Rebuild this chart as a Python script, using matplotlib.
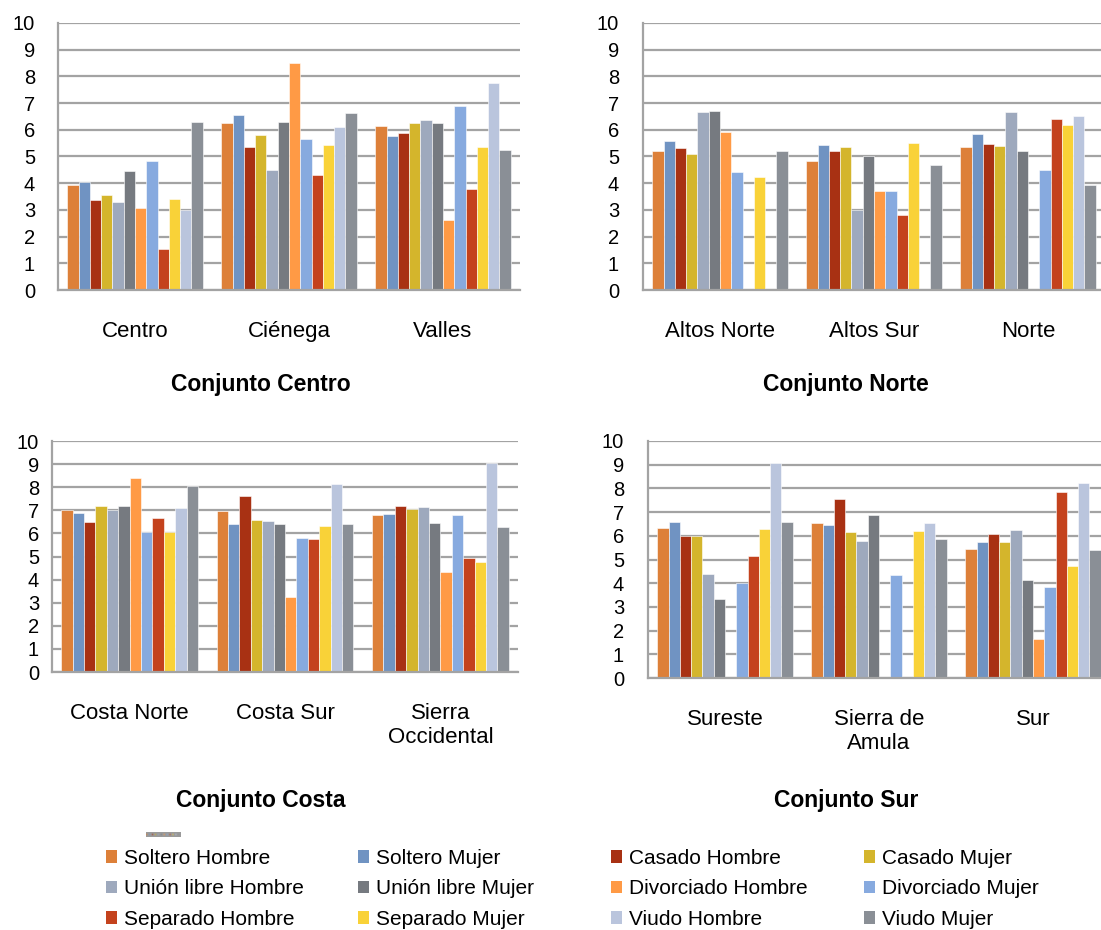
import numpy as np
import matplotlib
matplotlib.use("Agg")
import matplotlib.pyplot as plt
from matplotlib.patches import Patch
from matplotlib.colors import to_rgb

plt.rcParams['font.family'] = ['Liberation Sans', 'DejaVu Sans']

series = ["Soltero Hombre", "Soltero Mujer", "Casado Hombre", "Casado Mujer",
          "Unión libre Hombre", "Unión libre Mujer", "Divorciado Hombre", "Divorciado Mujer",
          "Separado Hombre", "Separado Mujer", "Viudo Hombre", "Viudo Mujer"]
colors = ["#DD8039", "#7093C2", "#A83113", "#D4B52C",
          "#9EA9BD", "#767A80", "#FF9A45", "#87AADF",
          "#C4421D", "#F9D238", "#BAC5DD", "#8A8F96"]

nan = np.nan

# Conjunto Centro
centro_cats = ["Centro", "Ciénega", "Valles"]
centro_vals = [
    [3.95, 4.04, 3.37, 3.55, 3.29, 4.45, 3.07, 4.85, 1.52, 3.40, 2.99, 6.31],
    [6.26, 6.56, 5.34, 5.80, 4.51, 6.31, 8.49, 5.64, 4.31, 5.42, 6.12, 6.62],
    [6.15, 5.77, 5.87, 6.26, 6.38, 6.25, 2.64, 6.91, 3.77, 5.35, 7.77, 5.26],
]

# Conjunto Norte
norte_cats = ["Altos Norte", "Altos Sur", "Norte"]
norte_vals = [
    [5.21, 5.57, 5.32, 5.10, 6.65, 6.70, 5.93, 4.42, nan, 4.24, nan, 5.19],
    [4.85, 5.42, 5.22, 5.34, 3.00, 5.01, 3.71, 3.69, 2.82, 5.50, nan, 4.69],
    [5.35, 5.83, 5.46, 5.40, 6.65, 5.19, nan, 4.49, 6.41, 6.17, 6.52, 3.94],
]

# Conjunto Costa
costa_cats = ["Costa Norte", "Costa Sur", "Sierra\nOccidental"]
costa_vals = [
    [7.01, 6.90, 6.50, 7.17, 7.01, 7.18, 8.40, 6.08, 6.65, 6.08, 7.10, 8.06],
    [6.99, 6.42, 7.62, 6.58, 6.55, 6.39, 3.24, 5.78, 5.74, 6.34, 8.16, 6.39],
    [6.78, 6.85, 7.20, 7.04, 7.15, 6.47, 4.31, 6.79, 4.93, 4.75, 9.03, 6.29],
]

# Conjunto Sur
sur_cats = ["Sureste", "Sierra de\nAmula", "Sur"]
sur_vals = [
    [6.32, 6.59, 6.01, 5.98, 4.40, 3.33, nan, 4.02, 5.15, 6.28, 9.07, 6.59],
    [6.54, 6.45, 7.57, 6.15, 5.76, 6.87, nan, 4.33, nan, 6.21, 6.56, 5.88],
    [5.44, 5.72, 6.08, 5.72, 6.25, 4.13, 1.66, 3.83, 7.84, 4.72, 8.22, 5.41],
]

titles = ["Conjunto Centro", "Conjunto Norte", "Conjunto Costa", "Conjunto Sur"]

W, H = 1101, 930
fig = plt.figure(figsize=(W / 100, H / 100), dpi=100)

# (left, right, top, bottom) in pixels, ytick pad in px, title centre (x, y)
panels = [
    (centro_cats, centro_vals, (58, 520, 23, 290), 23, (261, 384)),
    (norte_cats, norte_vals, (643, 1105, 23, 290), 24, (846, 384)),
    (costa_cats, costa_vals, (52, 518, 441, 672), 13, (261, 800)),
    (sur_cats, sur_vals, (648, 1110, 441, 678), 24, (846, 800)),
]

grid_c = "#A3A3A3"
n = len(series)
bw = 0.88 / n

for (cats, vals, box, ypad, tpos), title in zip(panels, titles):
    l, r, t, b = box
    ax = fig.add_axes([l / W, (H - b) / H, (r - l) / W, (b - t) / H])
    vals = np.array(vals, dtype=float)
    x = np.arange(len(cats))
    for i in range(n):
        ax.bar(x + (i - (n - 1) / 2) * bw, vals[:, i], width=bw, color=colors[i],
               edgecolor="white", linewidth=0.4, zorder=3)
    ax.set_xlim(-0.5, len(cats) - 0.5)
    ax.set_ylim(0, 10)
    ax.set_yticks(range(0, 11))
    ax.yaxis.grid(True, color=grid_c, linewidth=1.6, zorder=0)
    ax.set_axisbelow(True)
    for s in ["top", "right"]:
        ax.spines[s].set_visible(False)
    for s in ["left", "bottom"]:
        ax.spines[s].set_color(grid_c)
        ax.spines[s].set_linewidth(1.6)
        ax.spines[s].set_zorder(4)
    ax.set_xticks(x)
    ax.set_xticklabels(cats, fontsize=16, linespacing=1.2)
    ax.tick_params(axis="x", length=0, pad=22)
    ax.tick_params(axis="y", length=0, pad=ypad * 0.72, labelsize=14.5)
    fig.text(tpos[0] / W, 1 - tpos[1] / H, title, ha="center", va="center",
             fontsize=16.5, fontweight="bold")

# legend: four columns, filled row by row
col_x = [106, 358, 611, 864]
for c in range(4):
    idx = [c, c + 4, c + 8]
    handles = [Patch(facecolor=colors[k], edgecolor="none") for k in idx]
    labels = [series[k] for k in idx]
    fig.legend(handles, labels, loc="upper left",
               bbox_to_anchor=(col_x[c] / W, 1 - 849 / H), frameon=False,
               fontsize=15, handlelength=0.55, handleheight=0.55,
               handletextpad=0.3, labelspacing=0.55, borderpad=0, borderaxespad=0)

# small stray legend thumbnail above the legend
strip = fig.add_axes([146 / W, 1 - 837 / H, 35 / W, 5 / H])
gray = np.array(to_rgb("#9A9A9A"))
img = np.tile(gray, (3, 24, 1))
for i, c in enumerate(colors):
    img[1, 2 * i] = 0.5 * np.array(to_rgb(c)) + 0.5 * gray
strip.imshow(img, aspect="auto", interpolation="bilinear")
strip.axis("off")

fig.savefig("out.png", dpi=100)
